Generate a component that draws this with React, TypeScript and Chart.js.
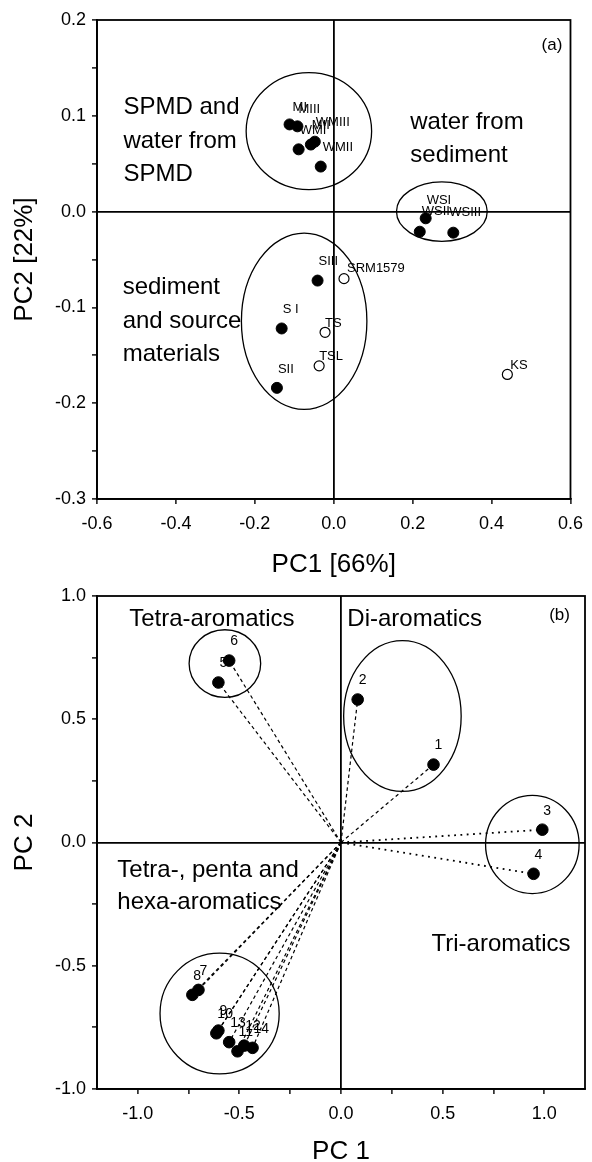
import React, { useEffect, useRef } from 'react';
import { Chart, registerables } from 'chart.js';

Chart.register(...registerables);

const FONT = '"Liberation Sans", Arial, Helvetica, sans-serif';

// ================= Panel (a) data =================
const aXTicks = [-0.6, -0.4, -0.2, 0, 0.2, 0.4, 0.6];
const aYTicks = [-0.3, -0.25, -0.2, -0.15, -0.1, -0.05, 0, 0.05, 0.1, 0.15, 0.2];

const aFilledNames = ['MI', 'MIII', 'MII', 'WMIII', 'WMI', 'WMII', 'WSI', 'WSII', 'WSIII', 'SIII', 'S I', 'SII'];
const aFilledX = [-0.112, -0.092, -0.058, -0.048, -0.089, -0.033, 0.233, 0.218, 0.303, -0.041, -0.132, -0.144];
const aFilledY = [0.091, 0.089, 0.070, 0.073, 0.065, 0.047, -0.007, -0.021, -0.022, -0.072, -0.122, -0.184];

const aOpenNames = ['SRM1579', 'TS', 'TSL', 'KS'];
const aOpenX = [0.026, -0.022, -0.037, 0.44];
const aOpenY = [-0.070, -0.126, -0.161, -0.17];

// group ellipses (data units)
const aEllCX = [-0.063, 0.274, -0.075];
const aEllCY = [0.084, 0.0, -0.1145];
const aEllRX = [0.159, 0.115, 0.159];
const aEllRY = [0.061, 0.031, 0.092];

// group captions
const aNoteText = ['SPMD and', 'water from', 'SPMD', 'water from', 'sediment', 'sediment', 'and source', 'materials'];
const aNoteX = [-0.533, -0.533, -0.533, 0.194, 0.194, -0.535, -0.535, -0.535];
const aNoteY = [0.1093, 0.0738, 0.0384, 0.0936, 0.0582, -0.0795, -0.115, -0.1495];

// ================= Panel (b) data =================
const bXTicks = [-1, -0.75, -0.5, -0.25, 0, 0.25, 0.5, 0.75, 1];
const bYTicks = [-1, -0.75, -0.5, -0.25, 0, 0.25, 0.5, 0.75, 1];

const bNames = ['1', '2', '3', '4', '5', '6', '7', '8', '9', '10', '11', '12', '13', '14'];
const bX = [0.455, 0.082, 0.99, 0.947, -0.603, -0.55, -0.701, -0.731, -0.603, -0.613, -0.509, -0.476, -0.55, -0.435];
const bY = [0.316, 0.58, 0.052, -0.127, 0.649, 0.738, -0.598, -0.618, -0.763, -0.774, -0.847, -0.824, -0.81, -0.833];
const bDotted = ['3', '4'];

const bEllCX = [-0.571, 0.302, 0.941, -0.597];
const bEllCY = [0.726, 0.513, -0.008, -0.694];
const bEllRX = [0.176, 0.289, 0.23, 0.293];
const bEllRY = [0.137, 0.306, 0.199, 0.245];

const bNoteText = ['Tetra-aromatics', 'Di-aromatics', 'Tetra-, penta and', 'hexa-aromatics', 'Tri-aromatics'];
const bNoteX = [-1.042, 0.031, -1.1, -1.1, 0.445];
const bNoteY = [0.905, 0.905, -0.114, -0.243, -0.414];

// ================= label placement (pixels) =================
const aFilledDX = [3, 1, 1, 1, 1, 2, 1, 2, -4, 1, 1, 1];
const aFilledDY = [-17, -17, -19, -19, -19, -19, -18, -20, -20, -19, -19, -18];
const aOpenDX = [3, 0, 0, 3];
const aOpenDY = [-10, -9, -9, -9];

type LabelSet = { names: string[]; x: number[]; y: number[]; dx: number[] | number; dy: number[] | number; size: number };

function fmt(v: number) {
  const r = Math.abs(v) < 1e-9 ? 0 : v;
  return r.toFixed(1);
}

function makeAxis(o: {
  isX: boolean; min: number; max: number; ticks: number[]; labelStep: number;
  title: string; fit: number; tickPad: number; titlePad: any; titleLH: number;
}) {
  return {
    type: 'linear',
    position: o.isX ? 'bottom' : 'left',
    min: o.min,
    max: o.max,
    afterBuildTicks: (s: any) => {
      s.ticks = o.ticks.map((v) => ({ value: v }));
    },
    afterFit: (s: any) => {
      if (o.isX) s.height = o.fit;
      else s.width = o.fit;
    },
    ticks: {
      autoSkip: false,
      maxRotation: 0,
      minRotation: 0,
      padding: o.tickPad,
      color: '#000',
      font: { family: FONT, size: 18 },
      callback: (v: any) => {
        const n = Number(v) / o.labelStep;
        return Math.abs(n - Math.round(n)) < 1e-6 ? fmt(Number(v)) : '';
      },
    },
    grid: {
      display: true,
      drawOnChartArea: true,
      drawTicks: true,
      tickLength: 5,
      tickWidth: 1.4,
      tickColor: '#000',
      lineWidth: 1.8,
      color: (c: any) => (c.tick && Math.abs(c.tick.value) < 1e-9 ? '#000' : 'rgba(0,0,0,0)'),
    },
    border: { display: true, color: '#000', width: 1.8 },
    title: {
      display: true,
      text: o.title,
      color: '#000',
      font: { family: FONT, size: 26, lineHeight: o.titleLH },
      padding: o.titlePad,
    },
  };
}

function makeOverlay(
  ell: { cx: number[]; cy: number[]; rx: number[]; ry: number[] },
  notes: { text: string[]; x: number[]; y: number[]; size: number },
  tag: { text: string; x: number; y: number },
  labels: LabelSet[]
) {
  return {
    id: 'overlay',
    beforeDatasetsDraw(chart: any) {
      const { ctx, chartArea } = chart;
      const xs = chart.scales.x;
      const ys = chart.scales.y;
      ctx.save();
      ctx.beginPath();
      ctx.rect(chartArea.left, chartArea.top, chartArea.right - chartArea.left, chartArea.bottom - chartArea.top);
      ctx.clip();
      ctx.strokeStyle = '#000';
      ctx.lineWidth = 1.3;
      ell.cx.forEach((c, i) => {
        const px = xs.getPixelForValue(c);
        const py = ys.getPixelForValue(ell.cy[i]);
        const prx = Math.abs(xs.getPixelForValue(c + ell.rx[i]) - px);
        const pry = Math.abs(ys.getPixelForValue(ell.cy[i] + ell.ry[i]) - py);
        ctx.beginPath();
        ctx.ellipse(px, py, prx, pry, 0, 0, Math.PI * 2);
        ctx.stroke();
      });
      ctx.restore();
    },
    afterDatasetsDraw(chart: any) {
      const { ctx } = chart;
      const xs = chart.scales.x;
      const ys = chart.scales.y;
      ctx.save();
      ctx.fillStyle = '#000';
      ctx.textBaseline = 'middle';
      ctx.textAlign = 'left';
      labels.forEach((set) => {
        ctx.font = `${set.size}px ${FONT}`;
        set.names.forEach((n, i) => {
          const dx = Array.isArray(set.dx) ? set.dx[i] : set.dx;
          const dy = Array.isArray(set.dy) ? set.dy[i] : set.dy;
          ctx.fillText(n, xs.getPixelForValue(set.x[i]) + dx, ys.getPixelForValue(set.y[i]) + dy);
        });
      });
      ctx.font = `${notes.size}px ${FONT}`;
      notes.text.forEach((t, i) => {
        ctx.fillText(t, xs.getPixelForValue(notes.x[i]), ys.getPixelForValue(notes.y[i]));
      });
      ctx.font = `17px ${FONT}`;
      ctx.textAlign = 'center';
      ctx.fillText(tag.text, xs.getPixelForValue(tag.x), ys.getPixelForValue(tag.y));
      ctx.restore();
    },
    afterDraw(chart: any) {
      const { ctx, chartArea } = chart;
      ctx.save();
      ctx.strokeStyle = '#000';
      ctx.lineWidth = 1.8;
      ctx.strokeRect(chartArea.left, chartArea.top, chartArea.right - chartArea.left, chartArea.bottom - chartArea.top);
      ctx.restore();
    },
  };
}

function configA(): any {
  return {
    type: 'scatter',
    data: {
      datasets: [
        {
          data: aFilledX.map((x, i) => ({ x, y: aFilledY[i] })),
          pointRadius: 5.5,
          pointBackgroundColor: '#000',
          pointBorderColor: '#000',
          pointBorderWidth: 1,
        },
        {
          data: aOpenX.map((x, i) => ({ x, y: aOpenY[i] })),
          pointRadius: 5,
          pointBackgroundColor: '#fff',
          pointBorderColor: '#000',
          pointBorderWidth: 1.2,
        },
      ],
    },
    options: {
      responsive: false,
      animation: false,
      events: [],
      layout: { padding: { top: 20, right: 16, left: 0, bottom: 0 } },
      plugins: { legend: { display: false }, tooltip: { enabled: false } },
      scales: {
        x: makeAxis({ isX: true, min: -0.6, max: 0.6, ticks: aXTicks, labelStep: 0.2, title: 'PC1 [66%]', fit: 86, tickPad: 9, titlePad: { top: 0, bottom: 7 }, titleLH: 1 }),
        y: makeAxis({ isX: false, min: -0.3, max: 0.2, ticks: aYTicks, labelStep: 0.1, title: 'PC2 [22%]', fit: 97, tickPad: 6, titlePad: { top: 12, bottom: 0 }, titleLH: 1 }),
      },
    },
    plugins: [
      makeOverlay(
        { cx: aEllCX, cy: aEllCY, rx: aEllRX, ry: aEllRY },
        { text: aNoteText, x: aNoteX, y: aNoteY, size: 24 },
        { text: '(a)', x: 0.553, y: 0.174 },
        [
          { names: aFilledNames, x: aFilledX, y: aFilledY, dx: aFilledDX, dy: aFilledDY, size: 13 },
          { names: aOpenNames, x: aOpenX, y: aOpenY, dx: aOpenDX, dy: aOpenDY, size: 13 },
        ]
      ),
    ],
  };
}

function configB(): any {
  const lines = bX.map((x, i) => {
    const dotted = bDotted.includes(bNames[i]);
    return {
      data: [{ x: 0, y: 0 }, { x, y: bY[i] }],
      showLine: true,
      borderColor: '#000',
      borderWidth: dotted ? 1.8 : 1.2,
      borderDash: dotted ? [1.8, 4.5] : [3.5, 3],
      pointRadius: 0,
      fill: false,
    };
  });
  return {
    type: 'scatter',
    data: {
      datasets: [
        {
          data: bX.map((x, i) => ({ x, y: bY[i] })),
          pointRadius: 5.8,
          pointBackgroundColor: '#000',
          pointBorderColor: '#000',
          pointBorderWidth: 1,
        },
        ...lines,
      ],
    },
    options: {
      responsive: false,
      animation: false,
      events: [],
      layout: { padding: { top: 21, right: 7, left: 0, bottom: 0 } },
      plugins: { legend: { display: false }, tooltip: { enabled: false } },
      scales: {
        x: makeAxis({ isX: true, min: -1.2, max: 1.2, ticks: bXTicks, labelStep: 0.5, title: 'PC 1', fit: 73, tickPad: 9, titlePad: { top: 0, bottom: 0 }, titleLH: 0.8 }),
        y: makeAxis({ isX: false, min: -1, max: 1, ticks: bYTicks, labelStep: 0.5, title: 'PC 2', fit: 97, tickPad: 6, titlePad: { top: 12, bottom: 0 }, titleLH: 1 }),
      },
    },
    plugins: [
      makeOverlay(
        { cx: bEllCX, cy: bEllCY, rx: bEllRX, ry: bEllRY },
        { text: bNoteText, x: bNoteX, y: bNoteY, size: 24 },
        { text: '(b)', x: 1.075, y: 0.921 },
        [{ names: bNames, x: bX, y: bY, dx: 1, dy: -19, size: 14 }]
      ),
    ],
  };
}

function Panel({ top, height, build }: { top: number; height: number; build: () => any }) {
  const ref = useRef<HTMLCanvasElement | null>(null);
  useEffect(() => {
    if (!ref.current) return;
    const chart = new Chart(ref.current, build());
    return () => chart.destroy();
  }, []);
  return (
    <canvas
      ref={ref}
      width={592}
      height={height}
      style={{ position: 'absolute', left: 0, top, width: 592, height, display: 'block' }}
    />
  );
}

export default function App() {
  return (
    <div style={{ position: 'absolute', left: 0, top: 0, width: 592, height: 1162, background: '#fff', overflow: 'hidden' }}>
      <Panel top={0} height={585} build={configA} />
      <Panel top={575} height={587} build={configB} />
    </div>
  );
}
